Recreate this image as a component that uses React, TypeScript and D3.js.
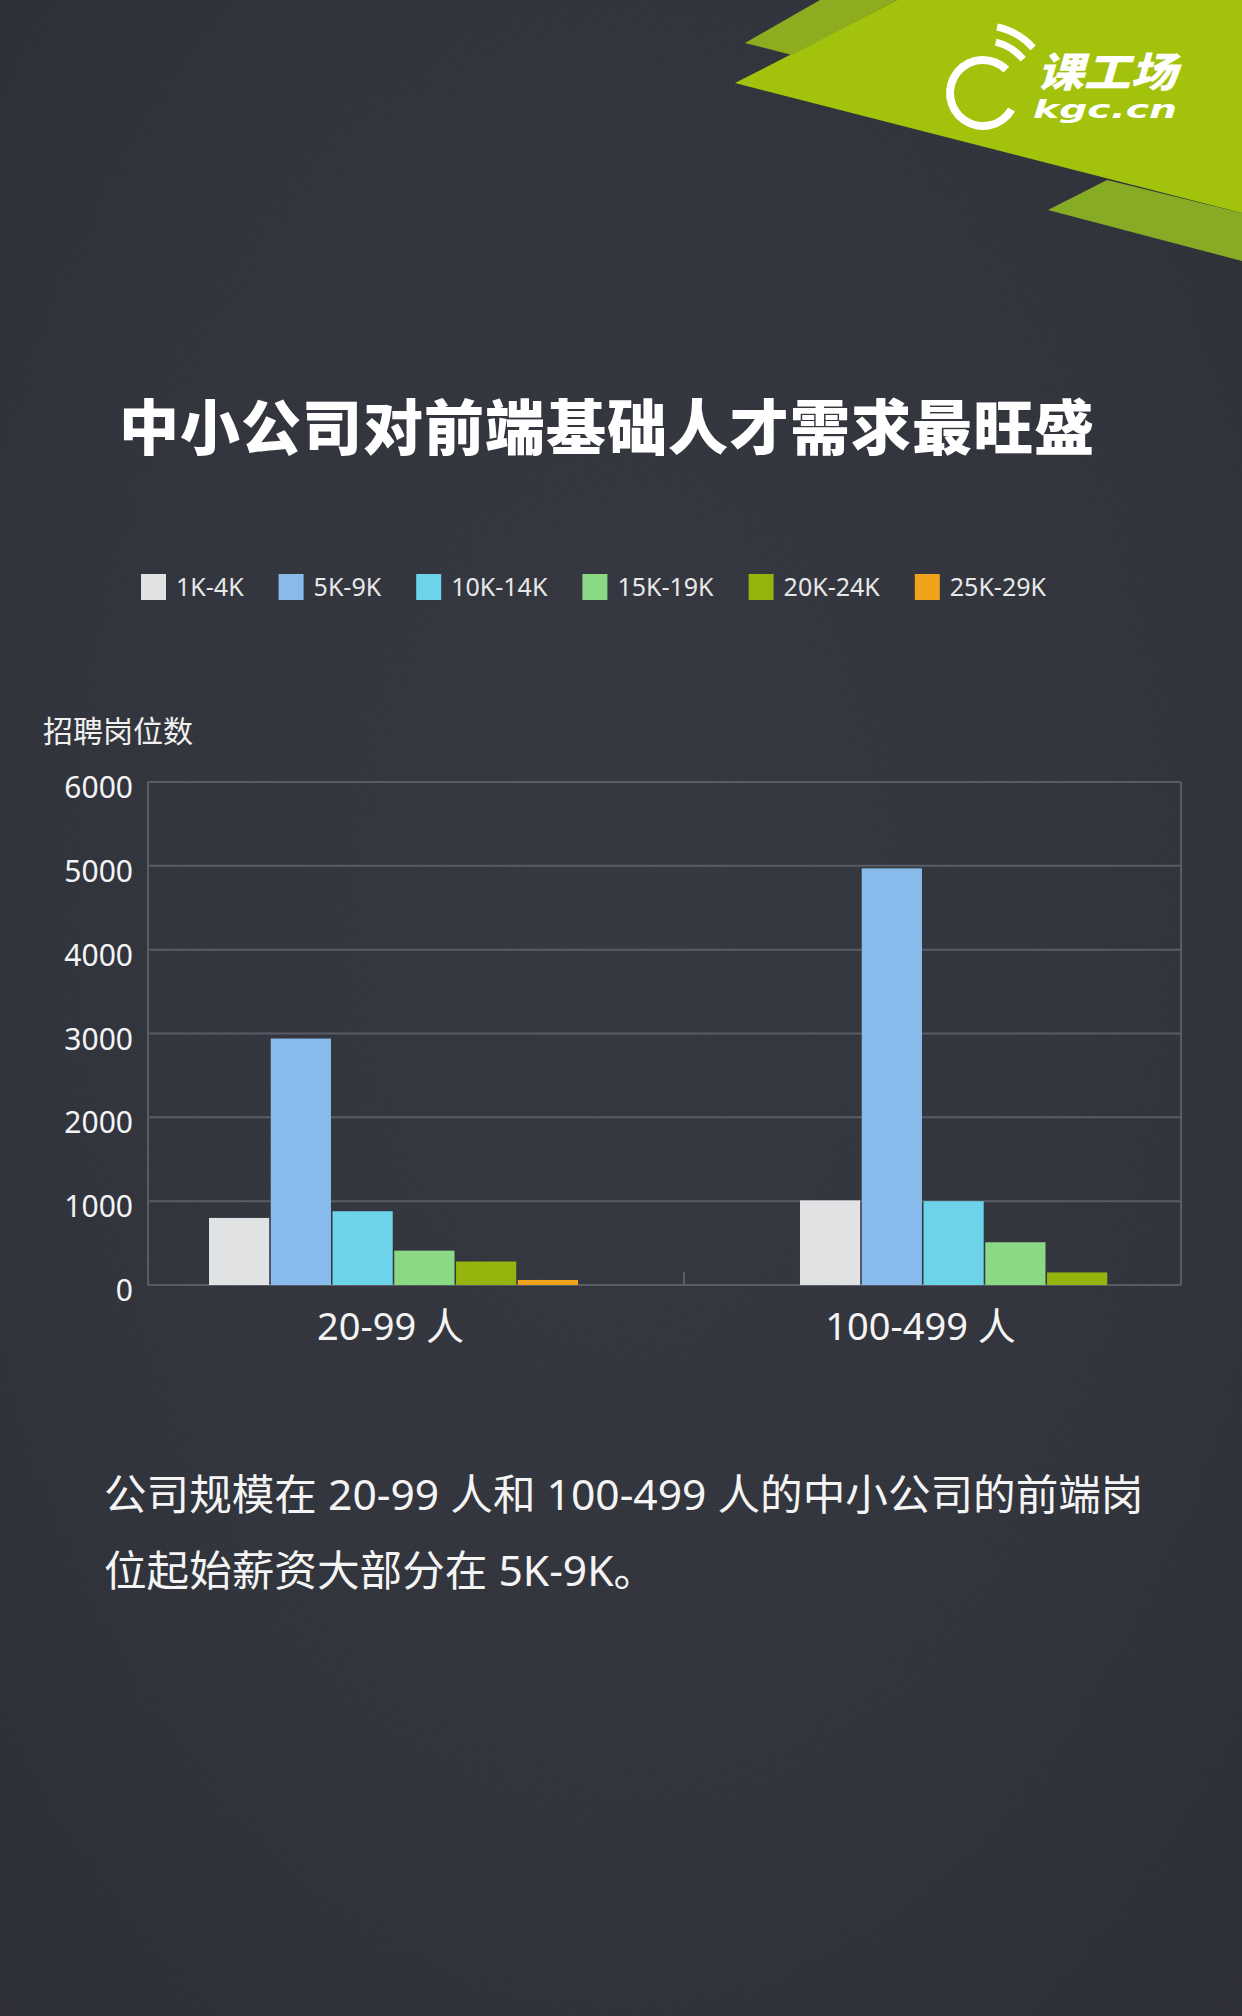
import React, { useMemo } from 'react';
import * as d3 from 'd3';

// ---- data ----
const categories = ['20-99 人', '100-499 人'];
const series = ['1K-4K', '5K-9K', '10K-14K', '15K-19K', '20K-24K', '25K-29K'];
const values20to99 = [800, 2940, 880, 410, 280, 60];
const values100to499 = [1010, 4970, 1000, 510, 150, 0];
const yTicks = [0, 1000, 2000, 3000, 4000, 5000, 6000];
const seriesColors = ['#e1e2e4', '#88bbec', '#6cd3e8', '#8cd985', '#95b40e', '#f0a21a'];

const title = '中小公司对前端基础人才需求最旺盛';
const yTitle = '招聘岗位数';
const noteLines = [
  '公司规模在 20-99 人和 100-499 人的中小公司的前端岗',
  '位起始薪资大部分在 5K-9K。',
];

// ---- layout ----
const W = 1242;
const H = 2016;
const plot = { left: 148, right: 1181, top: 782, bottom: 1285 };
const FONT = '"Noto Sans", "Noto Sans CJK SC", sans-serif';
const CJK = '"Noto Sans CJK SC", "Noto Sans", sans-serif';

function measure(text: string, font: string): number {
  if (typeof document === 'undefined') return text.length * 12;
  const c = document.createElement('canvas');
  const ctx = c.getContext('2d');
  if (!ctx) return text.length * 12;
  ctx.font = font;
  return ctx.measureText(text).width;
}

export default function App() {
  const valuesByCat = [values20to99, values100to499];

  const y = d3.scaleLinear().domain([0, 6000]).range([plot.bottom, plot.top]);
  const groupX = d3.scaleBand<string>().domain(categories).range([209, 1169]).paddingInner(0.3756);
  const innerX = d3.scaleBand<string>().domain(series).range([0, groupX.bandwidth()]).paddingInner(0.025);
  const labelX = d3.scalePoint<string>().domain(categories).range([plot.left - 9, plot.right - 9]).padding(0.4745);

  const legendItems = useMemo(() => {
    const font = `25px ${FONT}`;
    let x = 141;
    return series.map((s, i) => {
      const w = measure(s, font);
      const item = { s, x, color: seriesColors[i] };
      x += 25 + 10 + w + 35;
      return item;
    });
  }, []);

  const gap0End = (groupX(categories[0]) ?? 0) + groupX.bandwidth();
  const gap1Start = groupX(categories[1]) ?? 0;
  const dividerX = (gap0End + gap1Start) / 2 - 5;

  // logo ring
  const ringArc = d3.arc()({ innerRadius: 29, outerRadius: 37, startAngle: (120 * Math.PI) / 180, endAngle: (405 * Math.PI) / 180 }) as string;
  const wifi1 = d3.arc()({ innerRadius: 49, outerRadius: 56, startAngle: (14 * Math.PI) / 180, endAngle: (50 * Math.PI) / 180 }) as string;
  const wifi2 = d3.arc()({ innerRadius: 64, outerRadius: 71, startAngle: (12 * Math.PI) / 180, endAngle: (48 * Math.PI) / 180 }) as string;

  return (
    <div style={{ position: 'absolute', left: 0, top: 0, width: W, height: H }}>
      <svg width={W} height={H} viewBox={`0 0 ${W} ${H}`} style={{ display: 'block' }}>
        <defs>
          <radialGradient id="bg" cx="50%" cy="45%" r="75%">
            <stop offset="0%" stopColor="#34363f" />
            <stop offset="60%" stopColor="#30323b" />
            <stop offset="100%" stopColor="#2a2b33" />
          </radialGradient>
          <filter id="noise" x="0" y="0" width="100%" height="100%">
            <feTurbulence type="fractalNoise" baseFrequency="0.9" numOctaves="2" seed="3" />
            <feColorMatrix type="matrix" values="0 0 0 0 1  0 0 0 0 1  0 0 0 0 1  0 0 0 0.05 0" />
          </filter>
        </defs>
        <rect x={0} y={0} width={W} height={H} fill="url(#bg)" />
        <rect x={0} y={0} width={W} height={H} filter="url(#noise)" opacity={0.6} />

        {/* logo banner */}
        <polygon points="735,83 897,0 1242,0 1242,213" fill="#a2c20b" />
        <polygon points="745,43 820,0 897,0 792,55" fill="#8dac20" />
        <polygon points="1048,210 1107,180 1242,213 1242,261" fill="#88ab25" />
        <g transform="translate(983,93)" fill="#ffffff">
          <path d={ringArc} />
          <path d={wifi1} />
          <path d={wifi2} />
        </g>
        <text x={1037} y={87} fill="#ffffff" fontFamily={CJK} fontWeight={900} fontSize={41} fontStyle="italic" textLength={140} lengthAdjust="spacingAndGlyphs">课工场</text>
        <text x={1033} y={118} fill="#ffffff" fontFamily='"DejaVu Sans", sans-serif' fontWeight={700} fontSize={24} fontStyle="italic" textLength={144} lengthAdjust="spacingAndGlyphs">kgc.cn</text>

        {/* title */}
        <text x={607} y={450} textAnchor="middle" fill="#ffffff" fontFamily={CJK} fontWeight={900} fontSize={60} letterSpacing={1}>{title}</text>

        {/* legend */}
        {legendItems.map((it) => (
          <g key={it.s}>
            <rect x={it.x} y={574} width={25} height={26} fill={it.color} />
            <text x={it.x + 35} y={596} fill="#e8e8e8" fontFamily={FONT} fontSize={25}>{it.s}</text>
          </g>
        ))}

        {/* y-axis title */}
        <text x={43} y={742} fill="#f0f0f0" fontFamily={CJK} fontSize={30}>{yTitle}</text>

        {/* gridlines */}
        {yTicks.map((t) => (
          <line key={t} x1={plot.left} x2={plot.right} y1={y(t)} y2={y(t)} stroke="#595c66" strokeWidth={2} />
        ))}
        <line x1={plot.left} x2={plot.left} y1={plot.top} y2={plot.bottom} stroke="#595c66" strokeWidth={2} />
        <line x1={plot.right} x2={plot.right} y1={plot.top} y2={plot.bottom} stroke="#595c66" strokeWidth={2} />
        <line x1={dividerX} x2={dividerX} y1={plot.bottom} y2={plot.bottom - 13} stroke="#595c66" strokeWidth={2} />

        {/* y tick labels */}
        {yTicks.map((t) => (
          <text key={t} x={133} y={y(t) + 16} textAnchor="end" fill="#f4f4f4" fontFamily={FONT} fontSize={30}>{t}</text>
        ))}

        {/* bars */}
        {categories.map((c, ci) => (
          <g key={c} transform={`translate(${groupX(c)},0)`}>
            {series.map((s, si) => {
              const v = valuesByCat[ci][si];
              if (!v) return null;
              return (
                <rect key={s} x={innerX(s)} y={y(v)} width={innerX.bandwidth()} height={y(0) - y(v)} fill={seriesColors[si]} />
              );
            })}
          </g>
        ))}

        {/* category labels */}
        {categories.map((c) => (
          <text key={c} x={labelX(c)} y={1340} textAnchor="middle" fill="#f4f4f4" fontFamily={FONT} fontSize={38}>{c}</text>
        ))}

        {/* note */}
        {noteLines.map((l, i) => (
          <text key={i} x={104} y={1510 + i * 76} fill="#f4f4f4" fontFamily={FONT} fontSize={42.6}>{l}</text>
        ))}
      </svg>
    </div>
  );
}
